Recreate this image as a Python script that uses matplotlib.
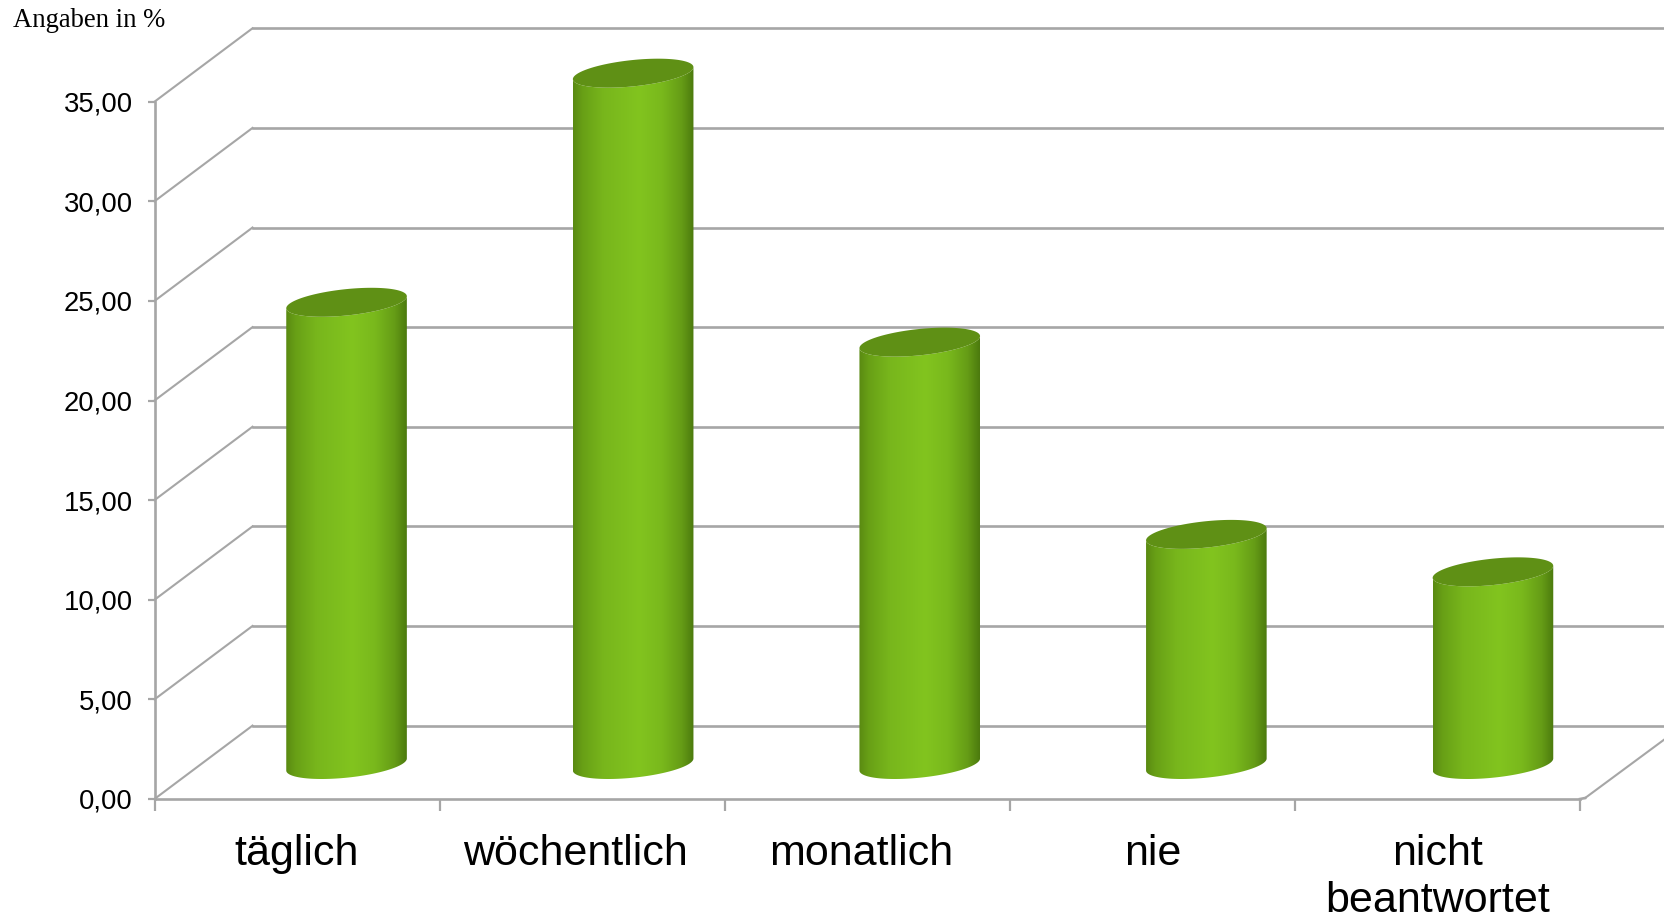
import numpy as np
import matplotlib
matplotlib.use("Agg")
import matplotlib.pyplot as plt
from matplotlib.colors import LinearSegmentedColormap
from matplotlib.patches import PathPatch
from matplotlib.path import Path

categories = ["täglich", "wöchentlich", "monatlich", "nie", "nicht\nbeantwortet"]
values = [23.2, 34.7, 21.2, 11.55, 9.67]
y_ticks = [0, 5, 10, 15, 20, 25, 30, 35]

GREY = "#a6a6a6"
W, H = 1664, 917
L, R, B, T = 154.5, 1580.0, 799.0, 101.7

fig = plt.figure(figsize=(W / 100, H / 100), dpi=100, facecolor="white")
ax = fig.add_axes([L / W, 1 - B / H, (R - L) / W, (B - T) / H])
ax.set_xlim(0, len(categories))
ax.set_ylim(0, 35)
cat_px = (R - L) / len(categories)
val_px = (B - T) / 35

# oblique depth of the 3-D box, in data units
DX = 98 / cat_px
DY = 73.4 / val_px
# bars stand halfway into the box
BAR_DX = 49.5 / cat_px
BAR_DY = 34.5 / val_px
BAR_STEP = 286.6 / cat_px
RX = 60.3 / cat_px
SHEAR = 6 / val_px
RY = 13.2 / val_px

for s in ("top", "right"):
    ax.spines[s].set_visible(False)
for s in ("left", "bottom"):
    ax.spines[s].set_color(GREY)
    ax.spines[s].set_linewidth(1.9)

ax.set_yticks(y_ticks)
ax.set_yticklabels([f"{v:.2f}".replace(".", ",") for v in y_ticks])
ax.set_xticks(range(len(categories) + 1))
ax.set_xticklabels([""] * (len(categories) + 1))
label_shift = np.array([0, -0.024, -0.022, 0, 0])
ax.set_xticks(np.arange(len(categories)) + 0.5 + label_shift, minor=True)
ax.set_xticklabels(categories, minor=True, fontsize=31, family="Liberation Sans",
                   color="black", linespacing=1.25)
ax.tick_params(axis="y", length=5, width=1.6, color=GREY, pad=10.5, labelsize=19.8,
               labelfontfamily="Liberation Sans")
ax.tick_params(axis="x", which="major", length=8.6, width=1.6, color=GREY)
ax.tick_params(axis="x", which="minor", length=0, pad=25)

# walls and floor
xmax_wall = len(categories) + 0.5
for v in y_ticks:
    ax.plot([0, DX], [v, v + DY], color=GREY, lw=1.5, clip_on=False, zorder=1)
    ax.plot([DX, xmax_wall], [v + DY, v + DY], color=GREY, lw=1.9, clip_on=False, zorder=1)
ax.plot([len(categories) + 0.018, len(categories) + 0.018 + DX],
        [0.05, DY], color=GREY, lw=1.5, clip_on=False, zorder=1)
ax.plot([len(categories), len(categories) + 0.018], [0, 0.05], color=GREY, lw=1.9,
        clip_on=False, zorder=1)

cmap = LinearSegmentedColormap.from_list(
    "cyl",
    [(0.00, "#5a8a12"), (0.08, "#68a016"), (0.25, "#78b61c"), (0.55, "#82c41f"),
     (0.74, "#79b81c"), (0.90, "#659c16"), (1.00, "#4c7a0e")],
)
grad = np.linspace(0, 1, 256).reshape(1, -1)
t_low = np.linspace(np.pi, 2 * np.pi, 60)
t_full = np.linspace(0, 2 * np.pi, 120)


def ring(cx, cy, t):
    return cx + RX * np.cos(t), cy + SHEAR * np.cos(t) + RY * np.sin(t)


for i, val in enumerate(values):
    cx = 0.5 + i * BAR_STEP + BAR_DX
    cy = BAR_DY
    bx, by = ring(cx, cy, t_low)          # front edge of base, left to right
    tx, ty = ring(cx, cy + val, t_low[::-1])  # front edge of top, right to left
    verts = np.vstack([np.column_stack([bx, by]), np.column_stack([tx, ty]), [[bx[0], by[0]]]])
    codes = [Path.MOVETO] + [Path.LINETO] * (len(verts) - 2) + [Path.CLOSEPOLY]
    body = PathPatch(Path(verts, codes), fc="none", ec="none", transform=ax.transData)
    ax.add_patch(body)
    body.set_clip_on(False)
    im = ax.imshow(grad, cmap=cmap, aspect="auto", interpolation="bilinear",
                   extent=(cx - RX, cx + RX, by.min() - 0.5, cy + val + RY + 0.5),
                   zorder=3)
    im.set_clip_box(fig.bbox)
    im.set_clip_path(body)
    ex, ey = ring(cx, cy + val, t_full)
    ax.fill(ex, ey, color="#5f9015", lw=0, zorder=4, clip_on=False)

ax.set_xlim(0, len(categories))
ax.set_ylim(0, 35)

fig.text(13 / W, 1 - 27 / H, "Angaben in %", family="Liberation Serif", fontsize=19.2,
         color="black", ha="left", va="baseline")

fig.savefig("out.png", dpi=100, facecolor="white")
